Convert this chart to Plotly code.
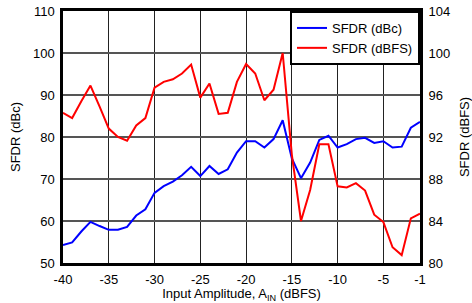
import plotly.graph_objects as go

# Input amplitude (dBFS)
ain = list(range(-40, 0))

# SFDR (dBc), left axis
sfdr_dbc = [54.3, 54.9, 57.5, 59.8, 58.8, 57.9, 57.9, 58.6, 61.3, 62.8,
            66.7, 68.3, 69.4, 70.9, 72.9, 70.7, 73.1, 71.2, 72.3, 76.3,
            79.0, 79.0, 77.5, 79.5, 84.0, 74.9, 70.2, 73.9, 79.3, 80.3,
            77.5, 78.3, 79.5, 79.8, 78.6, 79.0, 77.5, 77.7, 82.2, 83.6]

# SFDR (dBFS), right axis
sfdr_dbfs = [94.3, 93.8, 95.4, 96.9, 94.9, 92.8, 92.0, 91.65, 93.1, 93.8,
             96.7, 97.25, 97.5, 98.05, 98.9, 95.75, 97.1, 94.2, 94.3, 97.25,
             98.95, 98.05, 95.5, 96.5, 100.0, 90.3, 84.0, 86.95, 91.3, 91.3,
             87.3, 87.2, 87.6, 86.9, 84.6, 83.9, 81.5, 80.75, 84.25, 84.7]

x_ticks = [-40, -35, -30, -25, -20, -15, -10, -5, -1]
y1_ticks = [50, 60, 70, 80, 90, 100, 110]
y2_ticks = [80, 84, 88, 92, 96, 100, 104]

FONT = "Liberation Sans, Arial, sans-serif"

fig = go.Figure()
fig.add_trace(go.Scatter(x=ain, y=sfdr_dbc, mode="lines", name="SFDR (dBc)",
                         line=dict(color="#0000FF", width=2)))
fig.add_trace(go.Scatter(x=ain, y=sfdr_dbfs, mode="lines", name="SFDR (dBFS)",
                         yaxis="y2", line=dict(color="#FF0000", width=2)))

fig.update_layout(
    width=472, height=303,
    margin=dict(l=63, r=52, t=11, b=40),
    paper_bgcolor="white", plot_bgcolor="white",
    font=dict(family=FONT, size=13, color="black"),
    showlegend=True,
    legend=dict(x=1, y=1, xanchor="right", yanchor="top",
                bordercolor="black", borderwidth=2, bgcolor="white",
                font=dict(family=FONT, size=13, color="black"),
                itemwidth=30, tracegroupgap=0),
    xaxis=dict(range=[-40, -1], tickvals=x_ticks, ticktext=[str(v) for v in x_ticks],
               automargin=False,
               showgrid=True, gridcolor="#222222", gridwidth=1,
               showline=True, linecolor="black", linewidth=2.5, mirror=True,
               ticks="outside", ticklen=3, tickcolor="rgba(0,0,0,0)", zeroline=False,
               title=dict(text="Input Amplitude, A<sub>IN</sub> (dBFS)",
                          font=dict(size=13), standoff=2)),
    yaxis=dict(range=[50, 110], tickvals=y1_ticks, automargin=False,
               showgrid=True, gridcolor="#555555", gridwidth=1.5,
               showline=True, linecolor="black", linewidth=2.5, mirror=True,
               ticks="outside", ticklen=3, tickcolor="rgba(0,0,0,0)", zeroline=False,
               title=dict(text="SFDR (dBc)", font=dict(size=13), standoff=10)),
    yaxis2=dict(range=[80, 104], tickvals=y2_ticks, overlaying="y", side="right",
                automargin=False,
                showgrid=False, showline=False, zeroline=False,
                ticks="outside", ticklen=5, tickcolor="rgba(0,0,0,0)",
                title=dict(text="SFDR (dBFS)", font=dict(size=13), standoff=10)),
)

fig.write_html("out.html", config={"displayModeBar": False},
               post_script="document.body.style.margin='0';")
